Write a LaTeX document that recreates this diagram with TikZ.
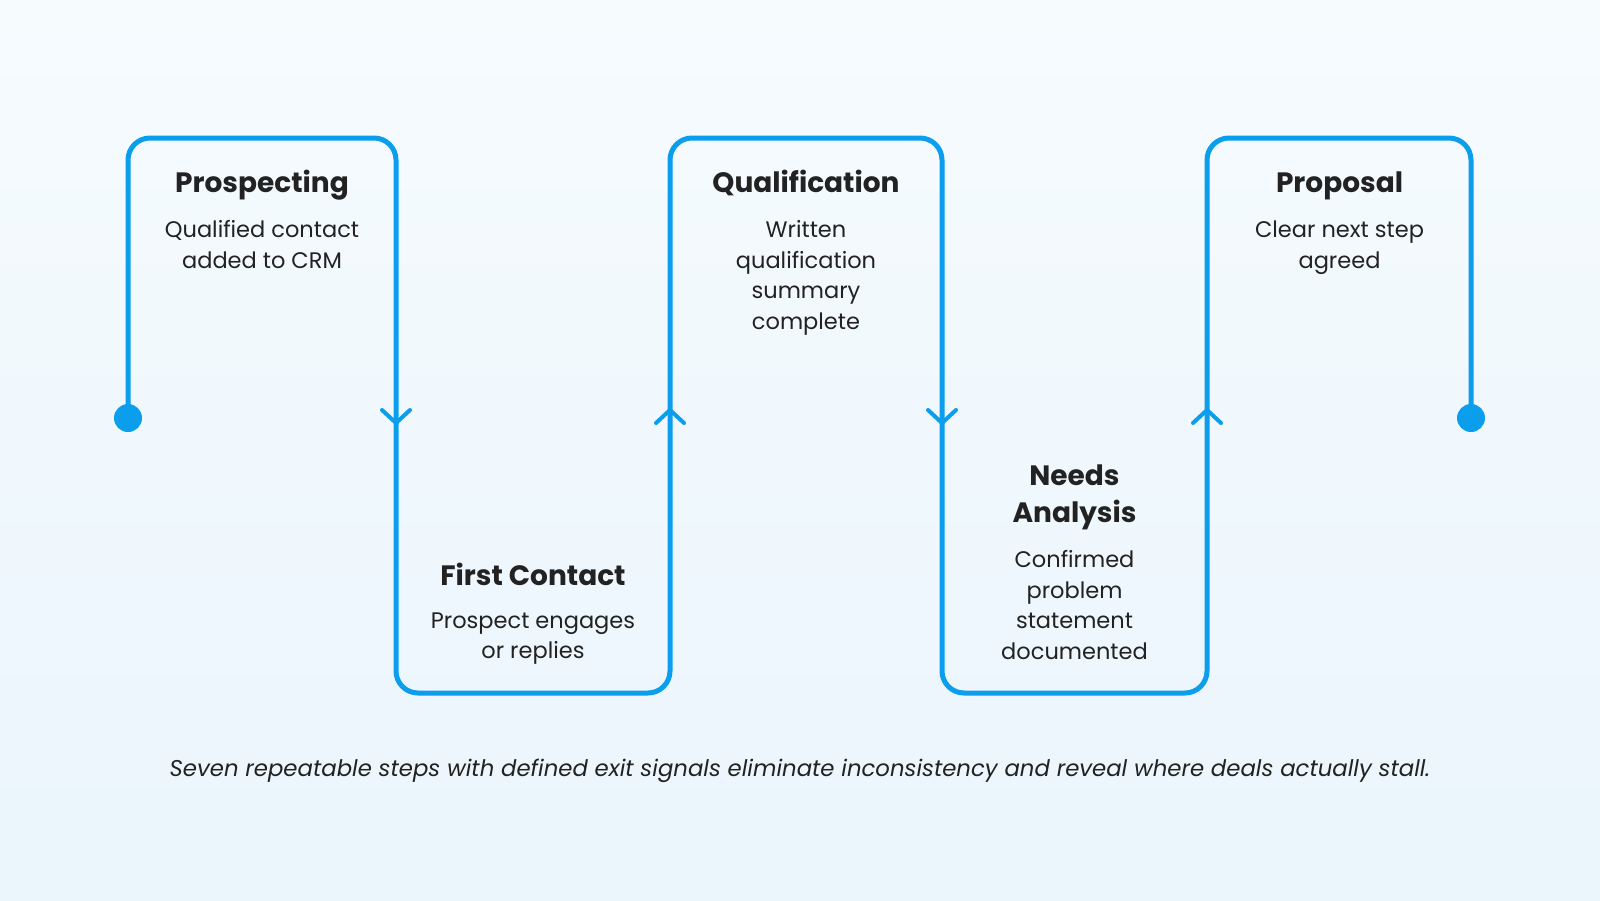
\documentclass[tikz,border=0pt]{standalone}
\usepackage{fontspec}
\setmainfont{Poppins}
\usetikzlibrary{calc}
\definecolor{flow}{HTML}{0A9EEC}
\definecolor{ink}{HTML}{222222}
\definecolor{bgtop}{HTML}{F6FBFE}
\definecolor{bgbot}{HTML}{EAF5FC}
\begin{document}
\begin{tikzpicture}[x=1pt,y=-1pt,
  flowline/.style={draw=flow,line width=5pt,rounded corners=22pt,line join=round},
  chev/.style={draw=flow,line width=4pt,line cap=round,line join=round},
  enddot/.style={circle,fill=flow,minimum size=28pt,inner sep=0pt},
  title/.style={text=ink,font=\fontsize{28}{37}\selectfont\bfseries,align=center,inner sep=0pt,anchor=north},
  body/.style={text=ink,font=\fontsize{22.5}{30.6}\selectfont,align=center,inner sep=0pt,anchor=north},
  caption/.style={text=ink,font=\fontsize{22.8}{27}\selectfont\itshape,inner sep=0pt,anchor=base}]
\shade[top color=bgtop,bottom color=bgbot] (0,0) rectangle (1600,900);
\useasboundingbox (0,0) rectangle (1600,900);

% corners of the snake path
\coordinate (c1) at (128,138);
\coordinate (c2) at (396,138);
\coordinate (c3) at (396,693);
\coordinate (c4) at (670,693);
\coordinate (c5) at (670,138);
\coordinate (c6) at (942,138);
\coordinate (c7) at (942,693);
\coordinate (c8) at (1207,693);
\coordinate (c9) at (1207,138);
\coordinate (c10) at (1471,138);

\draw[flowline] (128,418) coordinate (s) -- (c1) -- (c2) -- (c3) -- (c4) -- (c5) -- (c6) -- (c7) -- (c8) -- (c9) -- (c10) -- (1471,418) coordinate (e);
\node[enddot] (d1) at (s) {};
\node[enddot] (d2) at (e) {};

% chevrons
\coordinate (a1) at (396,423);
\coordinate (a2) at (670,410);
\coordinate (a3) at (942,423);
\coordinate (a4) at (1207,410);
\draw[chev] ($(a1)+(-14,-13)$) -- (a1) -- ($(a1)+(14,-13)$);
\draw[chev] ($(a2)+(-14,13)$) -- (a2) -- ($(a2)+(14,13)$);
\draw[chev] ($(a3)+(-14,-13)$) -- (a3) -- ($(a3)+(14,-13)$);
\draw[chev] ($(a4)+(-14,13)$) -- (a4) -- ($(a4)+(14,13)$);

% texts (y = first baseline - 0.7 * baselineskip)
\node[title] (t1) at (262,{192-25.9}) {\strut Prospecting};
\node[body] (b1) at (262,{237.5-21.42}) {\strut Qualified contact\\added to CRM};
\node[title] (t2) at (533,{585-25.9}) {\strut First Contact};
\node[body] (b2) at (533,{628-21.42}) {\strut Prospect engages\\or replies};
\node[title] (t3) at (806,{192-25.9}) {\strut Qualification};
\node[body] (b3) at (806,{237.5-21.42}) {\strut Written\\qualification\\summary\\complete};
\node[title] (t4) at (1074.5,{485-25.9}) {\strut Needs\\Analysis};
\node[body] (b4) at (1074.5,{567.5-21.42}) {\strut Confirmed\\problem\\statement\\documented};
\node[title] (t5) at (1339.5,{192-25.9}) {\strut Proposal};
\node[body] (b5) at (1339.5,{237.5-21.42}) {\strut Clear next step\\agreed};

\node[caption] (cap) at (800,776) {Seven repeatable steps with defined exit signals eliminate inconsistency and reveal where deals actually stall.};
\end{tikzpicture}
\end{document}
